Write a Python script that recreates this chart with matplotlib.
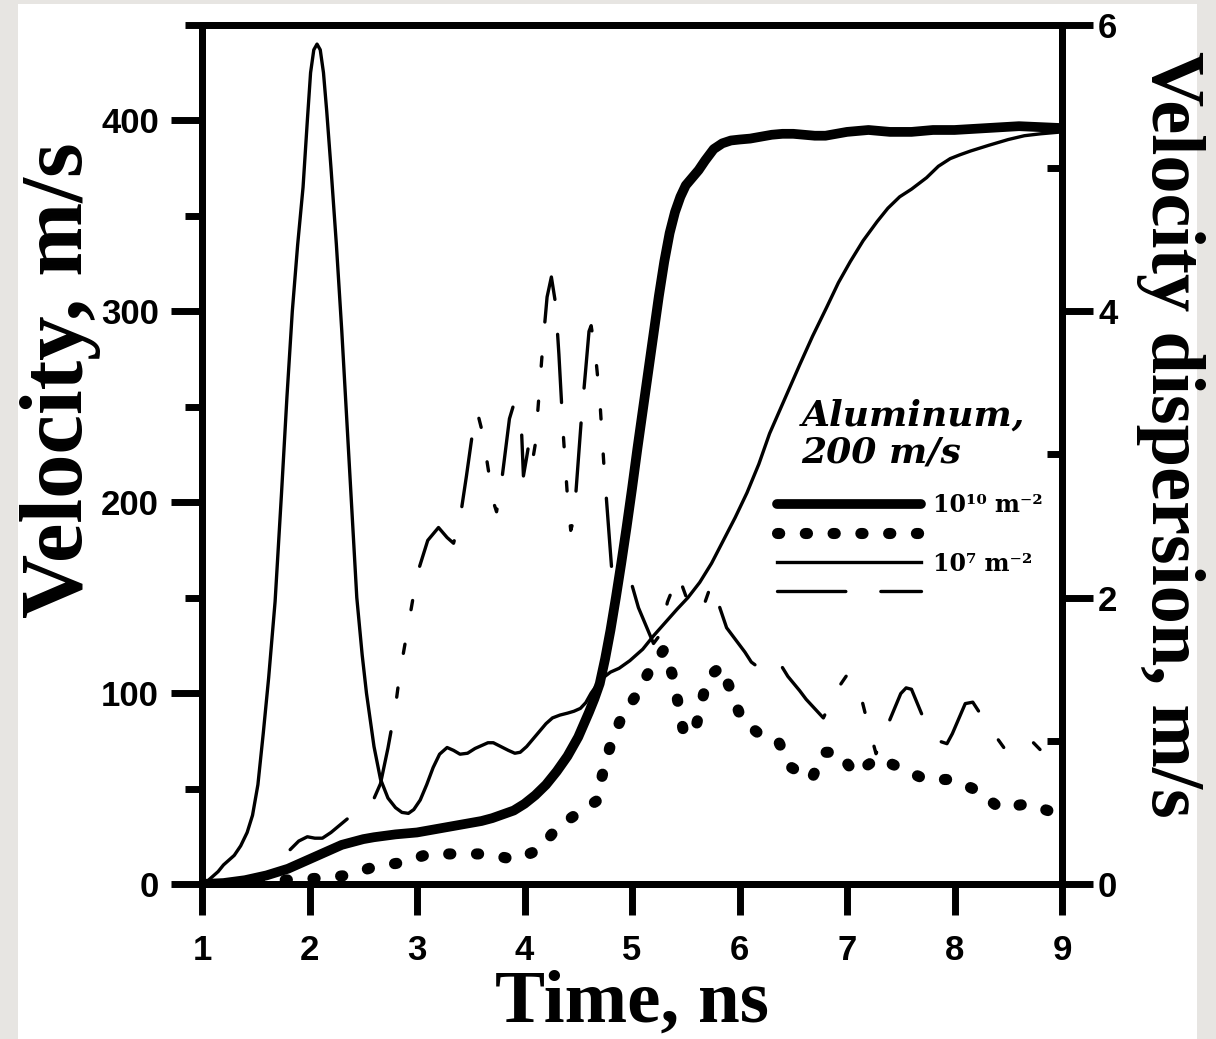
import matplotlib
matplotlib.use("Agg")
import matplotlib.pyplot as plt
from matplotlib.patches import Rectangle
from matplotlib.ticker import FixedLocator

# ---------------- data ----------------
# thick solid: velocity, 10^10 m^-2 (left axis, m/s)
t_thick = [1.0, 1.2, 1.4, 1.6, 1.8, 1.9, 2.0, 2.1, 2.2, 2.3, 2.4, 2.5, 2.6, 2.8,
           3.0, 3.2, 3.4, 3.6, 3.7, 3.8, 3.9, 4.0, 4.1, 4.2, 4.3, 4.4, 4.5, 4.6,
           4.65, 4.7, 4.75, 4.8, 4.85, 4.9, 4.95, 5.0, 5.05, 5.1, 5.15, 5.2, 5.25,
           5.3, 5.35, 5.4, 5.45, 5.5, 5.56, 5.62, 5.68, 5.76, 5.84, 5.92, 6.0,
           6.1, 6.2, 6.3, 6.4, 6.5, 6.6, 6.7, 6.8, 6.9, 7.0, 7.1, 7.2, 7.3, 7.4,
           7.5, 7.6, 7.7, 7.8, 7.9, 8.0, 8.15, 8.3, 8.45, 8.6, 8.8, 9.0]
v_thick = [0, 0.5, 2, 4.5, 8, 10.5, 13, 15.5, 18, 20.5, 22, 23.5, 24.5, 26,
           27, 29, 31, 33, 34.5, 36.5, 38.5, 42, 46.5, 52, 59, 67, 77, 90,
           97, 105, 118, 133, 150, 168, 187, 207, 228, 248, 268, 288, 308,
           326, 341, 352, 360, 366, 370, 374, 379, 385, 388, 389.5, 390,
           390.5, 391.5, 392.5, 393, 393, 392.5, 392, 392, 393, 394, 394.5, 395, 394.5, 394,
           394, 394, 394.5, 395, 395, 395, 395.5, 396, 396.5, 397, 396.5, 396]

# thin solid: velocity, 10^7 m^-2 (left axis, m/s)
t_thin = [1.0, 1.05, 1.1, 1.15, 1.2, 1.25, 1.3, 1.36, 1.42, 1.47, 1.52, 1.57, 1.62,
          1.68, 1.74, 1.79, 1.84, 1.89, 1.94, 1.98, 2.01, 2.04, 2.07, 2.1, 2.13,
          2.16, 2.2, 2.25, 2.3, 2.35, 2.4, 2.44, 2.49, 2.53, 2.6, 2.66, 2.73,
          2.8, 2.86, 2.92, 2.97, 3.03, 3.09, 3.15, 3.21, 3.28, 3.34, 3.4, 3.47,
          3.54, 3.6, 3.66, 3.71, 3.78, 3.85, 3.91, 3.96, 4.02, 4.08, 4.14, 4.2,
          4.26, 4.33, 4.4, 4.46, 4.52, 4.57, 4.62, 4.67, 4.73, 4.8, 4.88, 4.98,
          5.1, 5.2, 5.31, 5.42, 5.52, 5.63, 5.74, 5.85, 5.96, 6.07, 6.18, 6.28,
          6.42, 6.56, 6.68, 6.81, 6.92, 7.03, 7.15, 7.28, 7.38, 7.49, 7.6, 7.74,
          7.85, 7.96, 8.05, 8.15, 8.32, 8.5, 8.65, 8.8, 9.0]
v_thin = [0, 1.5, 4, 6.5, 10, 12.5, 15, 20, 27, 36, 52, 79, 108,
          148, 205, 255, 300, 335, 365, 400, 425, 437, 440, 437, 425,
          405, 375, 335, 290, 240, 190, 150, 120, 100, 72, 55, 45,
          40, 37.5, 37, 39, 44, 52, 61, 68, 71.5, 70, 68, 68.5,
          71, 72.5, 74, 74, 72, 70, 68.5, 69, 72, 76, 80, 84,
          87, 88.5, 89.5, 90.5, 92, 95, 100, 104, 108, 111, 113, 117,
          123, 130, 137, 144, 150, 158, 168, 180, 192, 205, 220, 236,
          254, 272, 287, 302, 315, 326, 337, 347, 354, 360, 364, 370,
          376, 380, 382, 384, 387, 390, 392, 393, 394]

# dotted: velocity dispersion, 10^10 m^-2 (right axis, m/s)
t_dot = [1.0, 1.28, 1.82, 2.08, 2.35, 2.6, 2.86, 3.11, 3.38, 3.65, 3.91, 4.14,
         4.31, 4.51, 4.67, 4.73, 4.8, 4.9, 5.04, 5.17, 5.3, 5.38, 5.43, 5.48,
         5.58, 5.64, 5.7, 5.83, 5.93, 6.02, 6.18, 6.36, 6.47, 6.67, 6.78, 6.93,
         7.07, 7.29, 7.5, 7.73, 7.98, 8.22, 8.42, 8.68, 8.92, 9.0]
d_dot = [0.0, 0.0, 0.03, 0.04, 0.06, 0.12, 0.15, 0.21, 0.21, 0.21, 0.17, 0.24,
         0.4, 0.5, 0.58, 0.78, 0.97, 1.16, 1.32, 1.5, 1.64, 1.45, 1.26, 1.06,
         1.05, 1.24, 1.44, 1.52, 1.33, 1.15, 1.05, 1.0, 0.82, 0.73, 0.92, 0.92,
         0.77, 0.88, 0.81, 0.73, 0.73, 0.65, 0.53, 0.56, 0.5, 0.5]

# dashed: velocity dispersion, 10^7 m^-2 (right axis, m/s)
t_dash = [1.82, 1.9, 1.98, 2.05, 2.12, 2.2, 2.36, 2.48, 2.59, 2.66, 2.73, 2.8,
          2.84, 2.95, 3.0, 3.1, 3.2, 3.28, 3.34, 3.4, 3.46, 3.52, 3.56, 3.61,
          3.71, 3.74, 3.78, 3.86, 3.9, 3.94, 3.97, 3.99, 4.02, 4.05, 4.08, 4.1,
          4.17, 4.21, 4.25, 4.29, 4.32, 4.36, 4.4, 4.43, 4.46, 4.53, 4.57, 4.6,
          4.62, 4.66, 4.7, 4.74, 4.81, 4.87, 4.92, 4.98, 5.06, 5.2, 5.26, 5.33,
          5.43, 5.54, 5.62, 5.68, 5.74, 5.88, 6.05, 6.11, 6.2, 6.31, 6.36, 6.45,
          6.56, 6.62, 6.78, 6.9, 7.0, 7.11, 7.18, 7.27, 7.4, 7.5, 7.55, 7.6,
          7.71, 7.76, 7.85, 7.93, 7.98, 8.1, 8.17, 8.3, 8.49, 8.6, 8.73, 8.95, 9.0]
d_dash = [0.24, 0.3, 0.33, 0.32, 0.32, 0.36, 0.46, 0.52, 0.58, 0.7, 0.95, 1.24,
          1.47, 1.94, 2.16, 2.4, 2.49, 2.42, 2.38, 2.55, 2.85, 3.17, 3.3, 3.15,
          2.67, 2.6, 2.77, 3.25, 3.35, 3.29, 3.21, 2.85, 2.98, 3.12, 2.98, 3.07,
          3.76, 4.1, 4.24, 4.05, 3.7, 3.15, 2.7, 2.47, 2.55, 3.26, 3.6, 3.86,
          3.9, 3.7, 3.39, 2.91, 2.21, 2.15, 2.17, 2.14, 1.93, 1.68, 1.74, 1.97,
          2.16, 1.93, 1.9, 1.97, 2.1, 1.79, 1.62, 1.55, 1.5, 1.55, 1.56, 1.45,
          1.35, 1.29, 1.16, 1.35, 1.46, 1.37, 1.16, 0.91, 1.15, 1.33, 1.37, 1.36,
          1.16, 1.09, 1.0, 0.98, 1.05, 1.26, 1.27, 1.12, 0.92, 0.93, 0.99, 0.82, 0.78]

x_ticks = [1, 2, 3, 4, 5, 6, 7, 8, 9]
yl_major = [0, 100, 200, 300, 400]
yl_minor = [50, 150, 250, 350, 450]
yr_major = [0, 2, 4, 6]
yr_minor = [1, 3, 5]
label_dense = "10¹⁰ m⁻²"
label_sparse = "10⁷ m⁻²"

# ---------------- figure ----------------
plt.rcParams['font.family'] = ['Liberation Sans', 'DejaVu Sans']
plt.rcParams['font.weight'] = 'bold'

W, H = 1216, 1039
fig = plt.figure(figsize=(W / 100, H / 100), dpi=100)
fig.patch.set_facecolor('#e7e5e2')
fig.patches.append(Rectangle((18 / W, 0), (1197 - 18) / W, (H - 4) / H,
                             transform=fig.transFigure, facecolor='white',
                             edgecolor='none', zorder=-10))

ax = fig.add_axes([202 / W, 1 - 884 / H, (1062 - 202) / W, (884 - 25) / H])
ax2 = ax.twinx()
ax.set_facecolor('white')
ax2.patch.set_visible(False)

ax.set_xlim(1, 9)
ax.set_ylim(0, 450)
ax2.set_ylim(0, 6)

lw_sp = 5
for a in (ax, ax2):
    for s in a.spines.values():
        s.set_linewidth(lw_sp)
        s.set_capstyle('round')

l_thick, = ax.plot(t_thick, v_thick, color='black', lw=7,
                   solid_capstyle='round', solid_joinstyle='round', zorder=5)
l_thin, = ax.plot(t_thin, v_thin, color='black', lw=2.4,
                  solid_joinstyle='round', zorder=4)
l_dot, = ax2.plot(t_dot, d_dot, color='black', lw=8,
                  linestyle=(0, (0.2, 2.3)), dash_capstyle='round', zorder=4)
l_dash, = ax2.plot(t_dash, d_dash, color='black', lw=2.4,
                   linestyle=(0, (20.5, 10.5, 20.5, 10.5, 2.8, 10.5, 2.8, 10.5, 2.8, 10.5)),
                   dash_capstyle='round', dash_joinstyle='round', zorder=4)

# ticks
ax.set_xticks(x_ticks)
ax.yaxis.set_major_locator(FixedLocator(yl_major))
ax.yaxis.set_minor_locator(FixedLocator(yl_minor))
ax2.yaxis.set_major_locator(FixedLocator(yr_major))
ax2.yaxis.set_minor_locator(FixedLocator(yr_minor))

ax.tick_params(axis='x', which='major', direction='out', length=22, width=lw_sp,
               pad=14, labelsize=25, top=False)
ax.tick_params(axis='y', which='major', direction='out', length=22, width=lw_sp,
               pad=9, labelsize=25, right=False)
ax.tick_params(axis='y', which='minor', direction='out', length=12, width=lw_sp,
               right=False)
ax2.tick_params(axis='y', which='major', direction='out', length=22, width=lw_sp,
                pad=4, labelsize=25)
ax2.tick_params(axis='y', which='minor', direction='in', length=11, width=lw_sp)

serif = ['Liberation Serif', 'DejaVu Serif']
ax.set_xlabel('Time, ns', fontsize=54, family=serif, weight='bold', labelpad=2)
ax.set_ylabel('Velocity, m/s', fontsize=64, family=serif, weight='bold')
ax.yaxis.set_label_coords(-0.165, 0.587)
ax.yaxis.label.set_va('center')
ax2.set_ylabel('Velocity dispersion, m/s', fontsize=55, family=serif,
               weight='bold', rotation=-90)
ax2.yaxis.set_label_coords(1.1256, 0.523)
ax2.yaxis.label.set_va('center')

# legend
ax2.text(0.697, 0.565, 'Aluminum,\n200 m/s', transform=ax2.transAxes,
         family='DejaVu Serif', style='italic', weight='bold', fontsize=26,
         va='top', ha='left', linespacing=1.12)
leg = ax2.legend([l_thick, l_dot, l_thin, l_dash],
                 [label_dense, '', label_sparse, ''],
                 loc='upper left', bbox_to_anchor=(0.669, 0.455),
                 borderaxespad=0, borderpad=0, frameon=False,
                 handlelength=6.1, handletextpad=0.5, labelspacing=0.22,
                 prop={'family': 'DejaVu Serif', 'weight': 'bold', 'size': 17})

fig.savefig('out.png', dpi=100, facecolor=fig.get_facecolor())
